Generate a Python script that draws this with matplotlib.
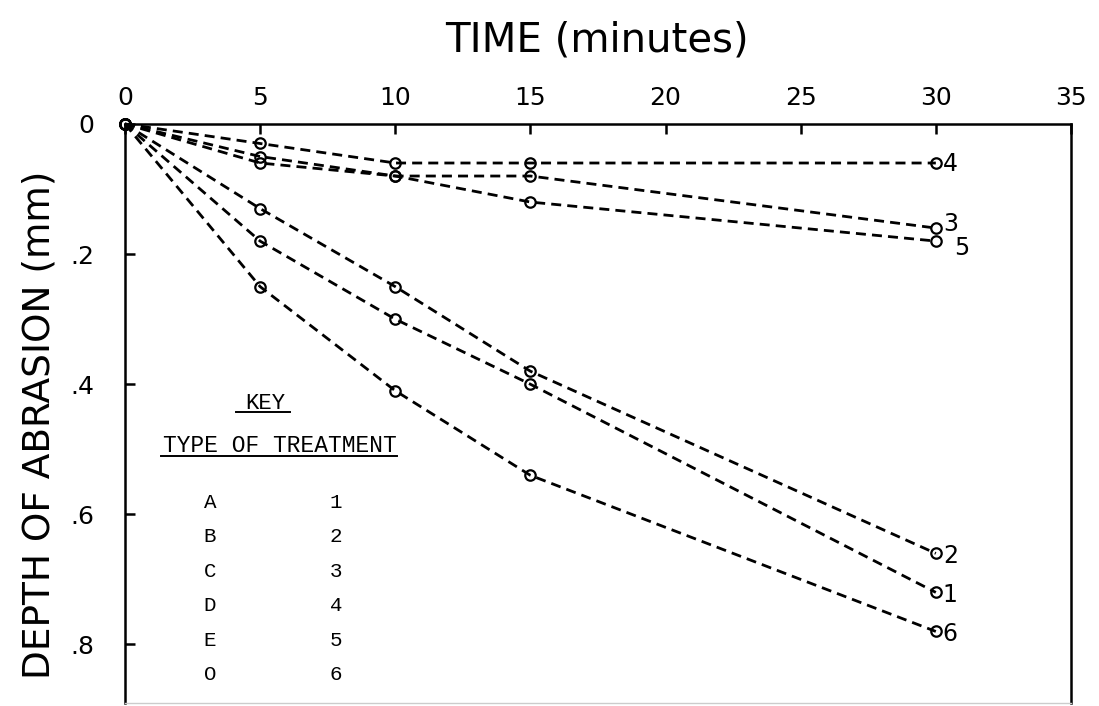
import matplotlib
matplotlib.use("Agg")
import matplotlib.pyplot as plt

# abrasion depth (mm) vs time (minutes) for each treatment
time_min = [0, 5, 10, 15, 30]
depth = {
    "1": [0, 0.18, 0.30, 0.40, 0.72],
    "2": [0, 0.13, 0.25, 0.38, 0.66],
    "3": [0, 0.05, 0.08, 0.08, 0.16],
    "4": [0, 0.03, 0.06, 0.06, 0.06],
    "5": [0, 0.06, 0.08, 0.12, 0.18],
    "6": [0, 0.25, 0.41, 0.54, 0.78],
}
end_offsets = {"1": (5, -2), "2": (5, -2), "3": (5, 3), "4": (5, -1),
               "5": (13, -5), "6": (5, -2)}

key_letters = ["A", "B", "C", "D", "E", "O"]
key_numbers = ["1", "2", "3", "4", "5", "6"]

xticks = [0, 5, 10, 15, 20, 25, 30, 35]
yticks = [0, 0.2, 0.4, 0.6, 0.8]
ytick_labels = ["0", ".2", ".4", ".6", ".8"]

plot_font = "DejaVu Sans"
key_font = ["Liberation Mono", "DejaVu Sans Mono"]

fig = plt.figure(figsize=(10.99, 7.06), dpi=100)
ax = fig.add_axes([0.1137, 0.0042, 0.8608, 0.8202])

for name, vals in depth.items():
    ax.plot(time_min, vals, color="black", lw=2.0, ls=(0, (3.6, 2.2)),
            marker="o", ms=7.5, mfc="none", mec="black", mew=1.6, clip_on=False)
    ax.annotate(name, (time_min[-1], vals[-1]), xytext=end_offsets[name],
                textcoords="offset points", ha="left", va="center",
                fontsize=17, family=plot_font)

ax.set_xlim(0, 35)
ax.set_ylim(0.89, 0)
ax.xaxis.tick_top()
ax.xaxis.set_label_position("top")
ax.set_xticks(xticks)
ax.set_xticklabels([str(t) for t in xticks], family=plot_font, fontsize=18)
ax.set_yticks(yticks)
ax.set_yticklabels(ytick_labels, family=plot_font, fontsize=18)
ax.tick_params(axis="both", direction="in", length=7, width=1.8, pad=10)
ax.tick_params(axis="y", pad=22)

ax.set_xlabel("TIME (minutes)", family=plot_font, fontsize=29)
ax.xaxis.set_label_coords(0.499, 1.125)
ax.set_ylabel("DEPTH OF ABRASION (mm)", family=plot_font, fontsize=27)
ax.yaxis.set_label_coords(-0.071, 0.48)

for side in ["top", "left", "right"]:
    ax.spines[side].set_linewidth(1.8)
ax.spines["bottom"].set_color("#cccccc")
ax.spines["bottom"].set_linewidth(1.0)

# key in the lower left corner
ax.text(5.2, 0.43, "KEY", family=key_font, fontsize=16, ha="center", va="center")
ax.plot([4.1, 6.1], [0.443, 0.443], color="black", lw=1.4)
ax.text(5.73, 0.494, "TYPE OF TREATMENT", family=key_font, fontsize=16.5,
        ha="center", va="center")
ax.plot([1.35, 10.05], [0.51, 0.51], color="black", lw=1.4)
for i, (letter, num) in enumerate(zip(key_letters, key_numbers)):
    yy = 0.582 + i * 0.0528
    ax.text(3.15, yy, letter, family=key_font, fontsize=15, ha="center", va="center")
    ax.text(7.8, yy, num, family=key_font, fontsize=15, ha="center", va="center")

fig.savefig("out.png", dpi=100)
